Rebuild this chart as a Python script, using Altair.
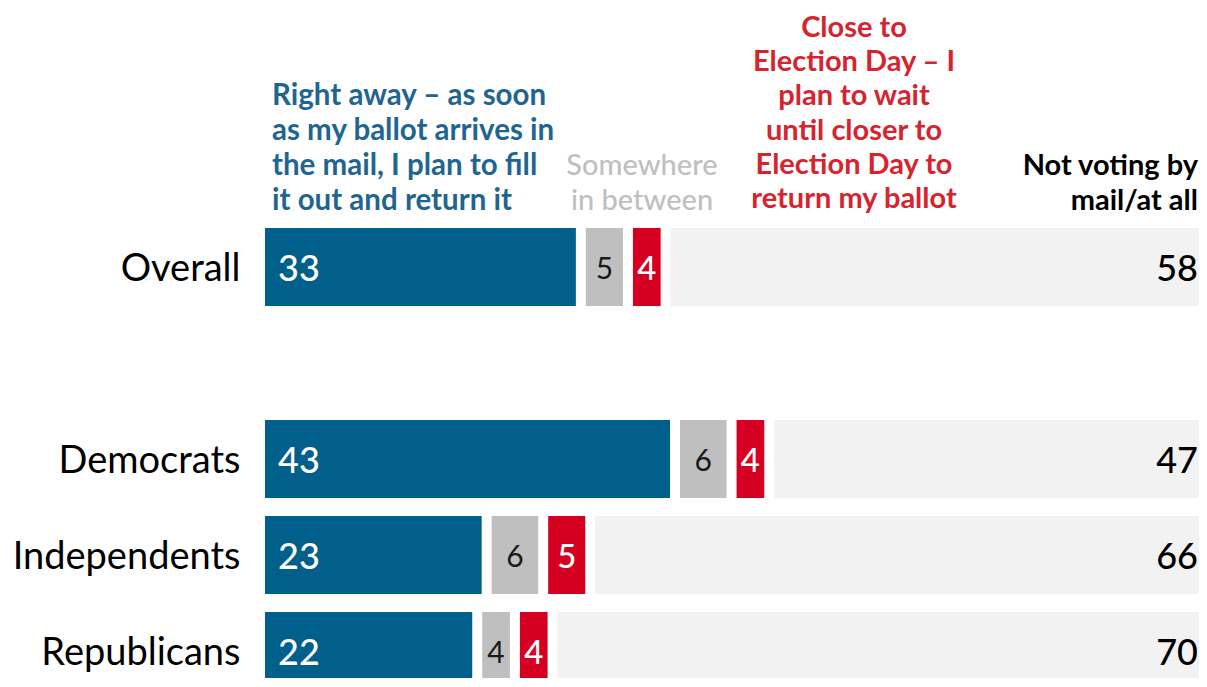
import altair as alt
import pandas as pd

groups = ["Overall", "Democrats", "Independents", "Republicans"]
categories = ["Right away", "Somewhere in between", "Close to Election Day", "Not voting by mail/at all"]
right_away = [33, 43, 23, 22]
in_between = [5, 6, 6, 4]
close_to = [4, 4, 5, 4]
not_voting = [58, 47, 66, 70]

row_order = ["Overall", " ", "Democrats", "Independents", "Republicans"]

header_blue = ["Right away \u2013 as soon", "as my ballot arrives in", "the mail, I plan to fill", "it out and return it"]
header_gray = ["Somewhere", "in between"]
header_red = ["Close to", "Election Day \u2013 I", "plan to wait", "until closer to", "Election Day to", "return my ballot"]
header_black = ["Not voting by", "mail/at all"]

rows = []
series = [right_away, in_between, close_to, not_voting]
for gi, g in enumerate(groups):
    for ci, c in enumerate(categories):
        rows.append({"group": g, "category": c, "order": ci, "value": series[ci][gi]})
df = pd.DataFrame(rows)

FONT = "Lato"
W = 934
XMAX = 100 * W / 942.0   # the full 0-100 bar runs just past the right page edge
GAP = 1.06               # gap between segments, in percentage points

color_scale = alt.Scale(
    domain=categories,
    range=["#005F8B", "#BFBFBF", "#D50021", "#F2F2F2"],
)

x_scale = alt.Scale(domain=[0, XMAX], nice=False, zero=True)
y_scale = alt.Scale(domain=row_order, paddingInner=0.1875, paddingOuter=0.09375, range=[0, 480])

base = (
    alt.Chart(df)
    .transform_stack(stack="value", groupby=["group"], as_=["x0", "x1"],
                     sort=[alt.SortField("order", order="ascending")])
    .transform_calculate(xs=f"datum.order > 0 ? datum.x0 + {GAP} : datum.x0",
                         xm=f"datum.order > 0 ? (datum.x0 + {GAP} + datum.x1) / 2 : datum.x0",
                         xr=f"min(datum.x1, {XMAX})")
)

y_axis = alt.Axis(title=None, domain=False, ticks=False, labelPadding=25,
                  labelFontSize=38, labelFont=FONT, labelColor="#000000",
                  labelLimit=400, grid=False, labelOffset=3)
Y = alt.Y("group:N", scale=y_scale, sort=row_order, axis=y_axis)

bars = base.mark_bar(clip=True).encode(
    x=alt.X("xs:Q", scale=x_scale, axis=None),
    x2="x1:Q",
    y=Y,
    color=alt.Color("category:N", scale=color_scale, legend=None),
)

lab_blue = base.transform_filter("datum.order == 0").mark_text(
    align="left", baseline="middle", dx=13, dy=3, fontSize=36, font=FONT,
    fontWeight=500, color="#FFFFFF"
).encode(x=alt.X("x0:Q", scale=x_scale, axis=None), y=Y, text="value:Q")

lab_gray = base.transform_filter("datum.order == 1").mark_text(
    align="center", baseline="middle", dy=3, fontSize=30, font=FONT,
    fontWeight=400, color="#1A1A1A"
).encode(x=alt.X("xm:Q", scale=x_scale, axis=None), y=Y, text="value:Q")

lab_red = base.transform_filter("datum.order == 2").mark_text(
    align="center", baseline="middle", dy=3, fontSize=33, font=FONT,
    fontWeight=500, color="#FFFFFF"
).encode(x=alt.X("xm:Q", scale=x_scale, axis=None), y=Y, text="value:Q")

lab_light = base.transform_filter("datum.order == 3").mark_text(
    align="right", baseline="middle", dx=-1, dy=3, fontSize=36, font=FONT,
    fontWeight=500, color="#000000"
).encode(x=alt.X("xr:Q", scale=x_scale, axis=None), y=Y, text="value:Q")

one = pd.DataFrame({"k": [0]})

def header(lines, x, y, align, color, weight, size=29, lh=35):
    return alt.Chart(one).mark_text(
        text=lines, align=align, baseline="alphabetic", lineHeight=lh,
        fontSize=size, font=FONT, fontWeight=weight, color=color
    ).encode(x=alt.value(x), y=alt.value(y))

h1 = header(header_blue, 7, -114, "left", "#1F6591", 700, 29.5)
h2 = header(header_gray, 377, -44, "center", "#BFBFBF", 500)
h3 = header(header_red, 589, -182, "center", "#D7232E", 700, 29, 34.2)
h4 = header(header_black, 933, -44, "right", "#000000", 700)

chart = (
    alt.layer(bars, lab_blue, lab_gray, lab_red, lab_light, h1, h2, h3, h4)
    .properties(width=W, height=459,
                view=alt.ViewBackground(stroke=None, strokeWidth=0, fill="#FFFFFF"),
                autosize=alt.AutoSizeParams(type="none"),
                padding={"left": 257, "top": 211, "right": 0, "bottom": 0})
    .configure_view(strokeWidth=0, stroke=None, strokeOpacity=0)
    .configure_axis(grid=False)
    .configure(background="#FFFFFF")
)

chart.save("out.html", embed_options={"renderer": "svg", "actions": False})
